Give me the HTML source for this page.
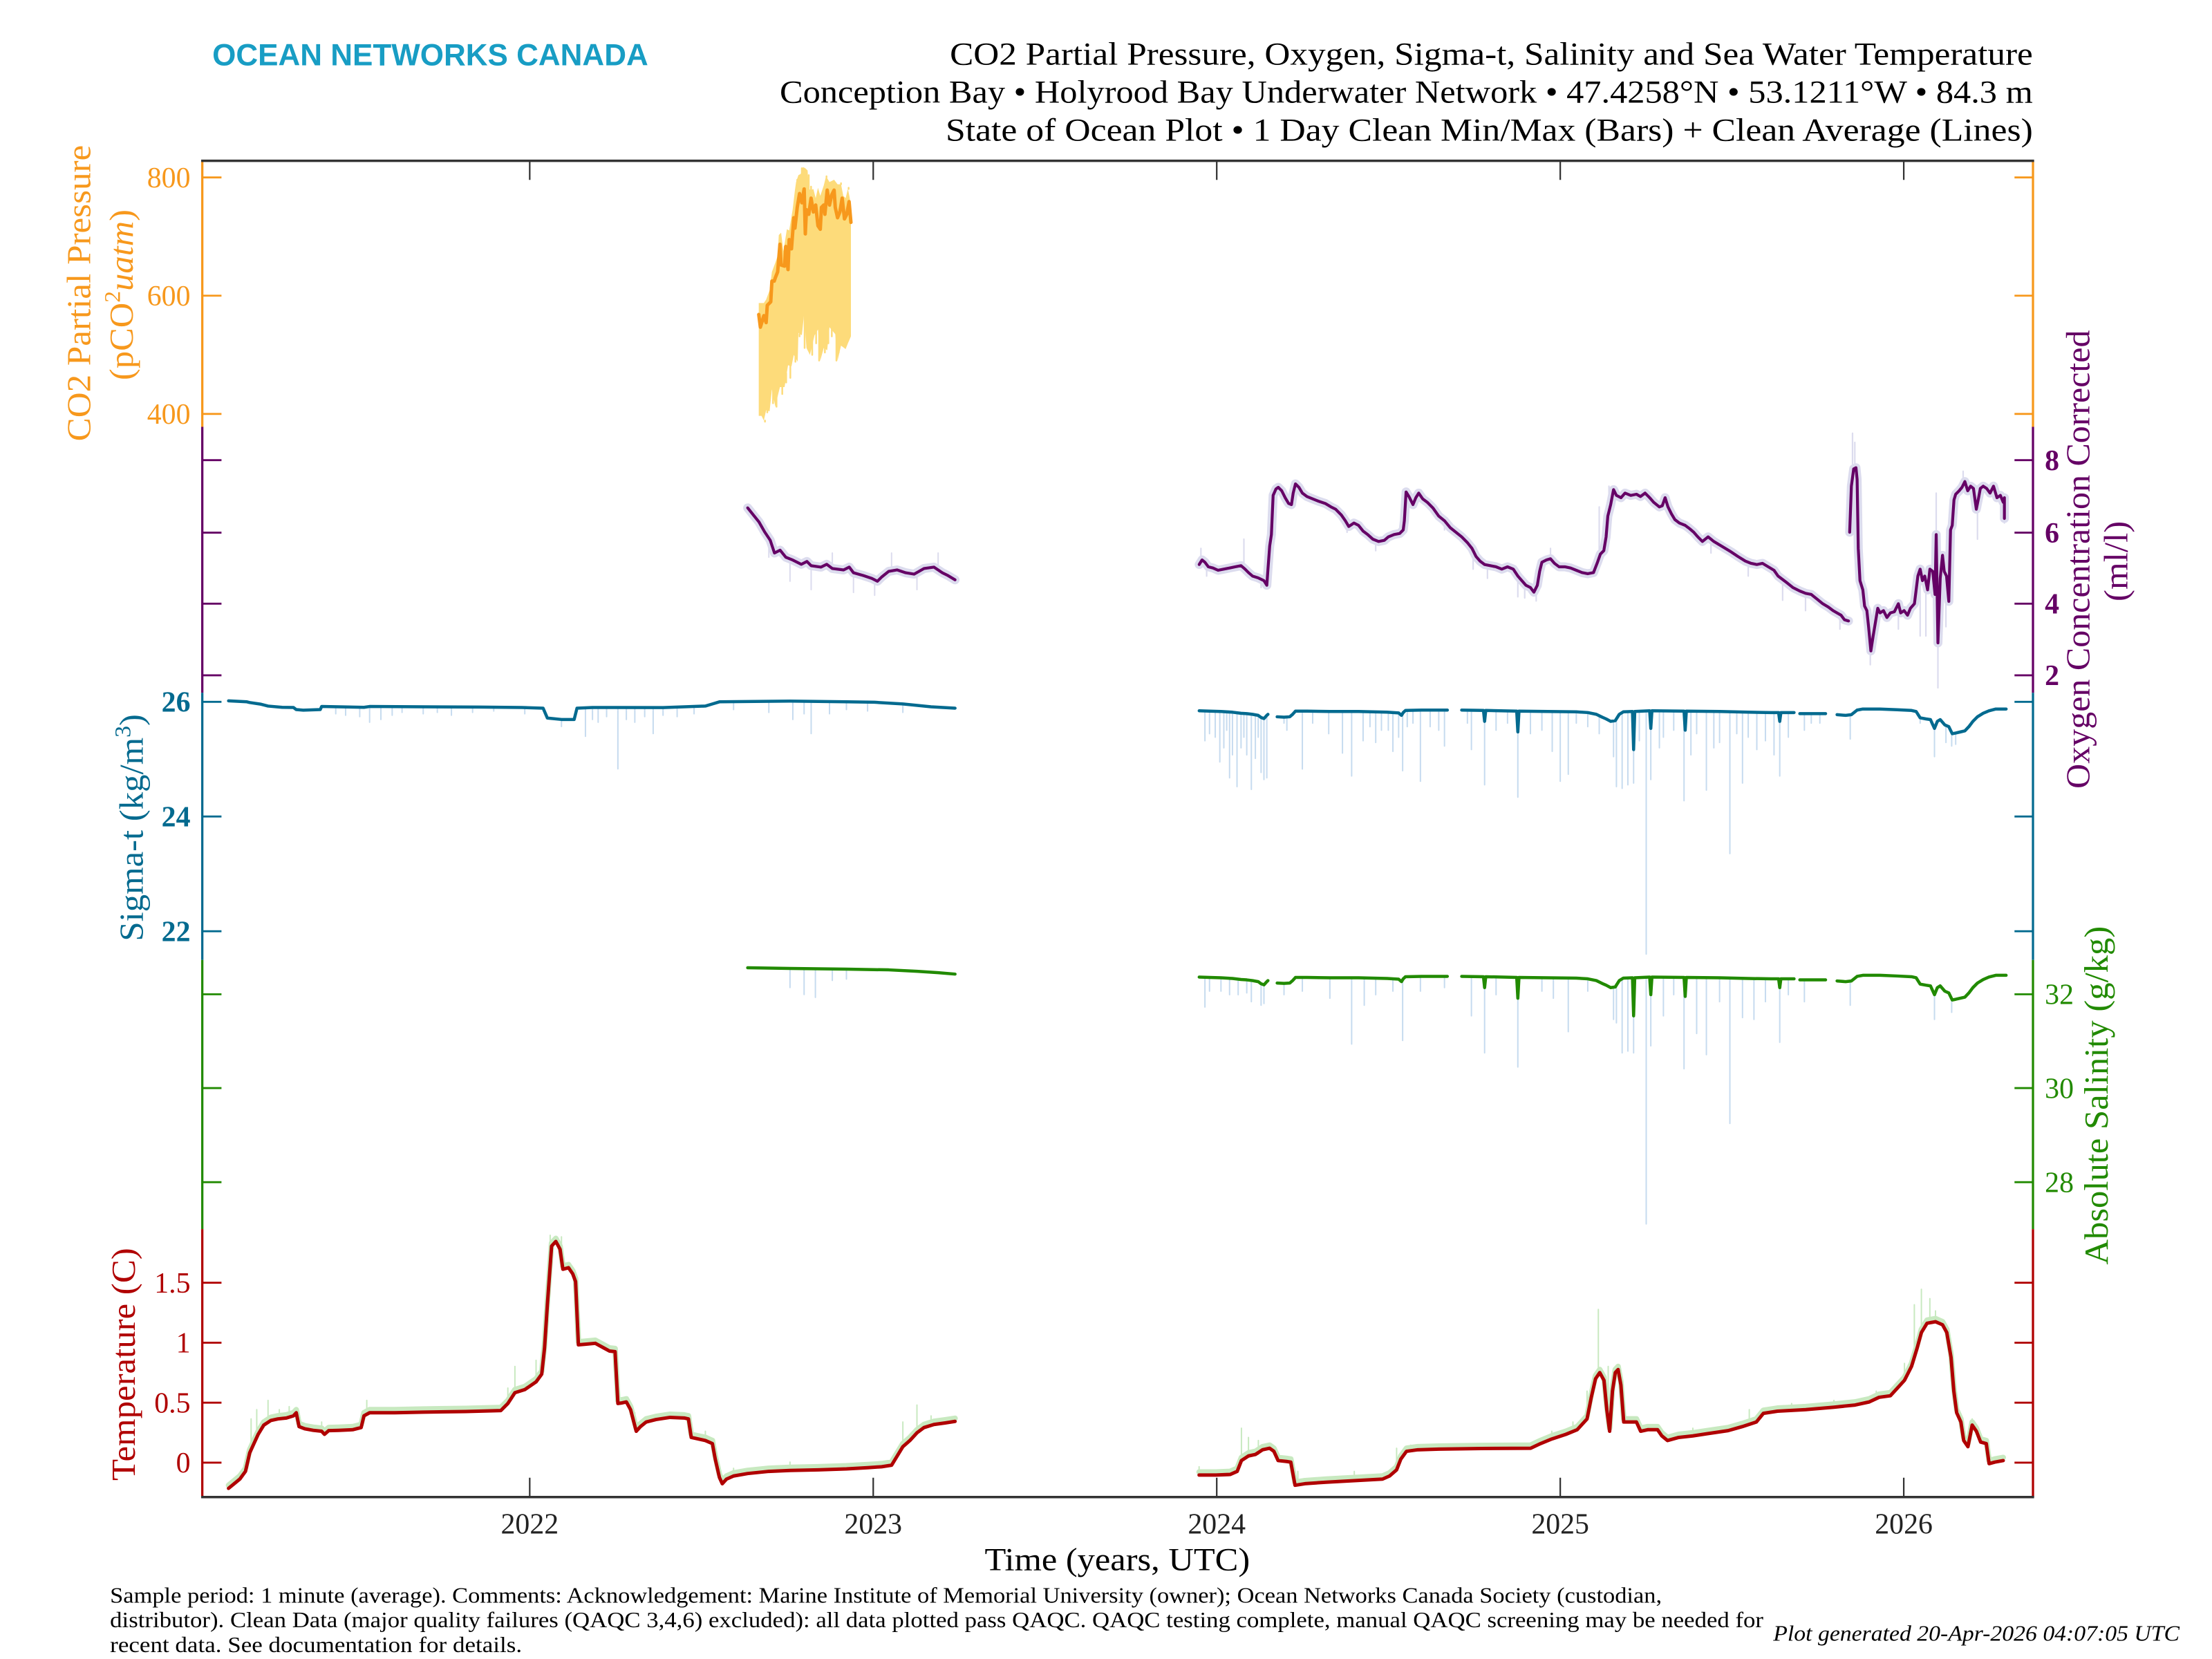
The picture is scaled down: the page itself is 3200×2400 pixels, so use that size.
<!DOCTYPE html>
<html><head><meta charset="utf-8"><style>
html,body{margin:0;padding:0;background:#fff;}
svg{display:block;}
text{font-family:"Liberation Serif",serif;}
.ns{vector-effect:non-scaling-stroke;fill:none;stroke-linejoin:round;stroke-linecap:round;}
</style></head><body>
<svg width="3200" height="2400" xmlns="http://www.w3.org/2000/svg">
<rect width="3200" height="2400" fill="#fff"/>
<defs>
<path id="sg" class="ns" d="M42,75 L60,76 80,77 100,79 115,82 125,83 135,85 145,88 150,94 155,97 160,88 162,85 M178,92 L190,93 200,92 205,85 210,76 230,76 270,77 320,77 370,79 390,81 395,88 398,80 402,74 430,73 475,73 M500,73 L538,74 540,105 542,74 596,76 598,135 600,76 650,77 700,78 720,80 735,85 745,93 752,98 760,105 768,103 775,85 782,78 798,77 800,185 802,77 828,75 830,125 832,75 888,76 890,130 892,76 950,77 1000,79 1040,80 1053,80 1055,105 1057,80 1080,80 M1090,83 L1135,83 M1155,86 L1170,88 1180,86 1190,73 1200,70 1230,70 1260,72 1285,74 1293,77 1300,95 1310,98 1318,100 1325,125 1330,105 1335,100 1343,115 1350,120 1356,140 1362,138 1370,135 1378,132 1385,120 1392,105 1400,92 1410,82 1420,75 1432,70 1450,70"/>
<path id="tp" class="ns" d="M162,1015 L166,1000 170,985 174,960 177,900 180,870 183,840 187,810 192,795 197,790 203,787 208,780 210,770 212,815 216,822 222,827 228,830 230,840 233,828 240,827 250,825 256,818 258,780 262,770 280,770 300,768 330,766 355,763 360,740 365,705 372,695 380,670 384,645 386,560 388,420 391,230 394,215 397,240 399,305 403,300 406,320 408,345 410,550 415,548 422,545 428,560 432,570 436,572 438,740 441,738 444,735 447,760 451,830 454,815 458,800 465,792 475,785 485,787 488,790 490,850 495,855 500,860 505,870 507,920 510,980 512,1000 515,985 520,975 530,967 545,960 560,957 580,955 600,952 615,948 625,945 632,940 636,910 640,880 645,860 650,835 655,818 662,808 670,803 677,798 M850,972 L862,972 872,970 877,960 880,925 885,910 890,905 895,890 900,885 903,895 906,925 912,928 915,930 918,1005 925,1000 940,995 960,990 980,985 985,975 990,955 993,920 997,895 1005,890 1020,888 1050,886 1085,885 1092,870 1100,855 1110,840 1118,825 1125,790 1128,720 1131,660 1134,640 1137,665 1139,760 1141,830 1143,700 1145,640 1147,630 1149,680 1151,800 1155,800 1160,800 1163,830 1168,825 1175,825 1178,845 1182,860 1190,850 1200,845 1210,838 1225,828 1235,815 1245,800 1250,772 1260,765 1280,760 1300,752 1315,745 1325,735 1332,720 1340,715 1345,690 1350,665 1355,620 1359,560 1362,510 1366,480 1372,475 1377,485 1380,510 1383,590 1385,700 1387,770 1390,800 1392,860 1395,880 1398,810 1401,830 1404,865 1408,870 1410,935 1414,930 1420,925"/>
<path id="ox" class="ns" d="M42,590 L47,570 52,580 58,600 66,605 75,615 85,610 95,605 105,600 115,595 122,610 128,625 135,640 145,648 155,660 160,680 162,610 165,510 168,460 171,290 176,262 180,255 186,270 192,300 198,325 203,330 206,280 210,240 216,255 222,280 230,295 240,305 250,315 262,325 272,340 280,350 290,375 297,400 303,425 312,410 320,420 328,445 336,460 345,480 355,490 365,485 372,470 382,460 392,455 398,440 400,400 403,275 408,295 415,330 420,300 425,280 432,305 440,320 450,345 460,380 470,400 480,430 490,450 500,470 510,495 518,520 525,555 532,575 540,590 550,595 560,600 570,610 580,600 590,610 598,640 605,660 612,680 620,690 626,710 632,680 636,620 640,580 648,570 655,565 662,585 670,600 680,600 690,605 700,615 710,625 720,630 730,625 737,580 742,545 748,530 752,470 755,380 760,330 765,265 770,290 778,300 785,280 795,290 805,285 812,295 820,280 828,300 835,320 845,340 850,335 855,300 860,340 866,370 872,395 880,410 890,420 898,435 905,450 912,470 920,490 930,470 940,490 950,505 960,520 970,535 982,555 995,575 1005,585 1015,590 1025,585 1035,600 1045,615 1052,640 1060,655 1068,670 1078,690 1090,705 1100,715 1110,720 1120,740 1130,760 1140,775 1148,790 1155,800 1162,810 1168,830 1175,835 M1177,450 L1180,250 1184,175 1188,170 1190,220 1192,520 1195,660 1200,700 1203,770 1207,790 1210,860 1214,965 1218,900 1222,840 1226,780 1230,800 1236,790 1242,820 1248,800 1255,795 1262,760 1266,800 1272,790 1278,810 1283,780 1290,760 1296,640 1300,610 1304,660 1308,640 1313,700 1317,610 1322,620 1326,720 1328,460 1331,930 1335,650 1339,550 1342,620 1346,640 1350,750 1353,440 1356,420 1359,310 1362,285 1368,270 1373,255 1378,230 1383,270 1388,250 1393,260 1398,350 1402,300 1405,260 1410,250 1416,260 1422,280 1428,250 1434,300 1440,290 1445,320 1447,300 1447,390"/>
<path id="oxl" class="ns" d="M530,360 L534,365 538,370 542,377 546,383 549,392 553,390 557,395 562,397 568,400 572,398 575,401 582,402 586,400 590,403 598,404 602,402 605,406 612,408 618,410 622,412 625,409 630,405 636,404 642,406 648,407 655,403 662,402 668,406 672,408 677,411"/>
</defs>
<g transform="scale(2.040816)">

<!-- Header -->
<text x="150.5" y="46.2" font-family="Liberation Sans, sans-serif" style="font-family:'Liberation Sans',sans-serif" font-weight="bold" font-size="22" fill="#189DC4" textLength="309" lengthAdjust="spacingAndGlyphs">OCEAN NETWORKS CANADA</text>
<text x="673.3" y="45.7" font-size="23" fill="#000" textLength="767.7" lengthAdjust="spacingAndGlyphs">CO2 Partial Pressure, Oxygen, Sigma-t, Salinity and Sea Water Temperature</text>
<text x="552.7" y="72.7" font-size="23" fill="#000" textLength="888.3" lengthAdjust="spacingAndGlyphs">Conception Bay • Holyrood Bay Underwater Network • 47.4258°N • 53.1211°W • 84.3 m</text>
<text x="670.3" y="99.6" font-size="23" fill="#000" textLength="770.7" lengthAdjust="spacingAndGlyphs">State of Ocean Plot • 1 Day Clean Min/Max (Bars) + Clean Average (Lines)</text>

<!-- CO2 panel -->
<g transform="translate(519.4,107.8) scale(0.16333)">
<polygon fill="#FDDB7A" points="113,655 135,655 145,640 160,600 170,520 185,480 195,450 200,360 210,350 220,430 235,335 245,340 260,250 270,165 275,130 285,100 295,95 305,65 315,70 325,80 330,160 340,165 350,160 360,200 370,155 380,190 395,145 405,105 420,130 440,120 455,140 470,140 480,190 490,200 500,160 508,200 513,240 513,800 500,830 490,855 470,840 455,905 445,790 420,760 410,860 395,850 380,905 370,770 355,795 335,880 320,850 310,700 300,795 285,785 282,910 265,880 255,930 240,925 225,1020 205,1020 195,1060 185,1105 170,1030 160,1125 145,1120 135,1165 125,1145 113,1145"/>
<path class="ns" stroke="#FDDB7A" stroke-width="2.5" d="M140,1165V1170 M150,1120V1130 M175,1030V1090 M190,1060V1105 M215,1020V1050 M232,960V1000 M250,930V980 M272,880V910 M290,790V800 M312,700V850 M330,795V850 M345,795V880 M362,770V830 M375,770V905 M400,850V870 M415,760V830 M430,760V800 M450,790V905 M460,840V870 M280,240V120 M300,95V70 M330,160V100 M407,105V110 M340,165V150 M470,140V135 M503,160V155"/>
<path class="ns" stroke="#F7981C" stroke-width="5" d="M113,705 L120,760 135,710 145,740 150,665 165,650 170,560 180,560 185,545 195,520 200,460 205,400 210,490 225,495 230,410 240,510 245,380 255,420 265,285 270,330 280,240 290,180 300,220 310,160 315,355 320,250 330,270 340,200 350,260 360,230 370,320 380,335 385,240 395,230 400,270 410,165 420,230 430,185 440,165 445,240 455,285 465,260 475,200 485,290 495,270 505,215 513,305"/>
</g>

<!-- Oxygen panel -->
<use href="#oxl" stroke="#DCDCEE" stroke-width="13"/>
<path class="ns" stroke="#DCDCEE" stroke-width="2" d="M545,380V395 M560,395V412 M575,400V418 M590,402V392 M605,405V420 M620,410V422 M632,404V392 M650,406V418 M665,402V392"/>
<use href="#oxl" stroke="#650065" stroke-width="4.2"/>
<g transform="translate(833,303.8) scale(0.40625,0.16333)">
<use href="#ox" stroke="#DCDCEE" stroke-width="13"/>
<path class="ns" stroke="#DCDCEE" stroke-width="2.2" d="M45,590V520 M55,580V640 M120,600V480 M150,655V690 M300,410V450 M350,485V530 M470,400V440 M520,530V610 M545,590V650 M598,640V730 M610,680V735 M630,700V748 M655,565V520 M740,560V340 M757,360V250 M852,320V285 M935,480V540 M1000,585V640 M1060,655V745 M1100,715V790 M1160,810V870 M1182,250V20 M1186,175V60 M1213,965V1025 M1262,760V870 M1300,610V900 M1310,700V900 M1328,460V280 M1331,930V1125 M1345,640V860 M1375,240V185 M1400,350V480 M1447,300V410"/>
<use href="#ox" stroke="#650065" stroke-width="4.2"/>
</g>

<!-- Sigma & Salinity left -->
<path class="ns" stroke="#C6DBEF" stroke-width="2" d="M238,501V506 M245,501V507 M255,501V508 M262,501V512 M270,501V510 M278,501V507 M285,501V505 M300,501V506 M310,501V505 M320,501V507 M335,501V505 M350,501V504 M372,501V506 M398,510V515 M415,502V522 M420,502V510 M424,502V512 M430,502V508 M438,502V545 M444,502V510 M450,502V512 M457,502V508 M463,502V520 M470,502V507 M480,502V508 M492,502V506 M520,497V503 M545,497V505 M562,497V510 M570,497V506 M575,497V520 M588,497V506 M600,497V503 M615,497V504 M640,499V505 M560,686V700 M570,686V705 M578,687V707 M590,687V695 M600,687V694"/>
<path class="ns" stroke="#036A8F" stroke-width="4.5" d="M162,496.8 L175,497.5 177,498 185,499.2 190,500.5 200,501.4 208,501.5 210,503 215,503.4 227,503 228,500.8 258,501.4 262,500.8 300,501 340,501.2 370,501.5 385,502 388,509 398,510 407,510 409,502 420,501.5 470,501.6 500,500.5 505,499 510,497.5 560,497 600,497.5 620,497.8 640,499 660,501 677,502"/>
<path class="ns" stroke="#218A00" stroke-width="4.5" d="M530,686 L560,686.5 600,687 630,687.5 650,688.5 665,689.5 677,690.5"/>

<!-- Sigma & Salinity right -->
<g transform="translate(833,485.1) scale(0.40625,0.25)">
<path class="ns" stroke="#C6DBEF" stroke-width="2" d="M52,78V160 M60,78V140 M70,78V150 M78,78V220 M85,78V180 M90,78V130 M95,78V265 M100,80V200 M108,80V290 M115,82V180 M120,82V150 M125,83V200 M133,85V298 M140,86V210 M145,88V150 M150,94V250 M155,97V270 M160,88V265 M190,93V110 M195,92V130 M222,76V240 M240,76V110 M268,77V140 M292,77V195 M308,77V260 M328,77V160 M340,78V120 M350,78V165 M360,78V130 M372,79V130 M380,80V190 M390,81V150 M397,85V245 M405,74V120 M415,74V110 M428,73V275 M445,73V120 M460,73V130 M470,73V175 M510,74V110 M517,74V185 M540,74V285 M560,76V130 M580,76V110 M598,76V320 M620,77V140 M640,77V130 M658,77V190 M672,78V275 M686,78V255 M700,78V110 M720,80V120 M740,88V140 M765,104V205 M770,100V290 M780,80V295 M790,77V285 M800,77V280 M810,77V160 M822,76V765 M830,75V270 M845,75V180 M852,75V150 M870,76V130 M888,76V330 M900,76V200 M910,76V140 M927,77V300 M940,77V180 M950,77V165 M968,78V480 M980,78V140 M990,78V280 M1000,79V150 M1015,79V185 M1030,80V160 M1045,80V200 M1055,80V260 M1070,80V150 M1098,83V130 M1110,83V110 M1125,83V110 M1178,87V155 M1300,95V110 M1325,125V205 M1345,115V165 M1355,140V175 M1362,138V170"/>
<path class="ns" stroke="#C6DBEF" stroke-width="2" d="M52,832V915 M60,832V870 M80,832V870 M95,834V880 M110,836V880 M125,838V875 M133,840V900 M150,849V910 M155,852V905 M190,848V880 M222,831V870 M270,832V890 M308,832V1020 M330,832V910 M350,833V880 M380,835V870 M397,840V1010 M428,828V870 M470,828V860 M517,829V940 M540,829V1045 M560,831V880 M598,831V1085 M640,832V870 M660,832V890 M686,833V985 M720,835V870 M765,859V950 M770,855V960 M780,835V1045 M790,832V1040 M800,832V1045 M822,831V1530 M830,830V1025 M852,830V940 M870,831V880 M888,831V1090 M910,831V990 M927,832V1050 M950,832V900 M968,833V1245 M990,833V945 M1010,834V950 M1030,835V900 M1055,835V1015 M1070,835V880 M1098,838V900 M1178,842V910 M1325,880V950 M1355,895V930"/>
<use href="#sg" stroke="#036A8F" stroke-width="4.5"/>
<use href="#sg" transform="translate(0,755)" stroke="#218A00" stroke-width="4.5"/>
</g>

<!-- Temperature -->
<g transform="translate(0,833) scale(1,0.21875)">
<use href="#tp" transform="translate(0,-10)" stroke="#C8E9C0" stroke-width="8"/>
<path class="ns" stroke="#C8E9C0" stroke-width="2" d="M178,900V790 M182,850V760 M190,800V730 M198,790V760 M205,787V750 M210,770V755 M228,830V800 M260,770V730 M300,768V755 M360,740V690 M365,705V620 M380,670V600 M390,230V195 M398,250V200 M445,735V720 M450,800V770 M485,787V775 M500,860V830 M520,975V950 M560,957V930 M600,952V935 M640,880V800 M650,835V745 M660,810V780 M670,803V790 M850,972V945 M880,925V820 M885,910V850 M892,905V860 M920,1003V960 M960,990V960 M990,955V885 M1000,893V875 M1100,855V830 M1115,830V800 M1125,790V700 M1133,645V435 M1140,780V620 M1200,845V820 M1240,805V760 M1270,762V740 M1300,752V730 M1330,722V700 M1350,665V610 M1357,590V420 M1362,510V370 M1368,478V400 M1372,475V440 M1398,810V790"/>
<use href="#tp" stroke="#B00000" stroke-width="5"/>
</g>

<!-- Spines -->
<g stroke-width="1.6" fill="none">
<line x1="143.4" y1="114" x2="143.4" y2="302.6" stroke="#F7981C"/>
<line x1="143.4" y1="302.6" x2="143.4" y2="491.1" stroke="#650065"/>
<line x1="143.4" y1="491.1" x2="143.4" y2="680.5" stroke="#036A8F"/>
<line x1="143.4" y1="680.5" x2="143.4" y2="871.3" stroke="#218A00"/>
<line x1="143.4" y1="871.3" x2="143.4" y2="1061.2" stroke="#B00000"/>
<line x1="1441.1" y1="114" x2="1441.1" y2="302.6" stroke="#F7981C"/>
<line x1="1441.1" y1="302.6" x2="1441.1" y2="491.1" stroke="#650065"/>
<line x1="1441.1" y1="491.1" x2="1441.1" y2="680.5" stroke="#036A8F"/>
<line x1="1441.1" y1="680.5" x2="1441.1" y2="871.3" stroke="#218A00"/>
<line x1="1441.1" y1="871.3" x2="1441.1" y2="1061.2" stroke="#B00000"/>
</g>
<!-- Y ticks -->
<g stroke-width="1.4">
<path stroke="#F7981C" d="M143,125.8H157 M143,209.6H157 M143,293.4H157 M1441,125.8H1428 M1441,209.6H1428 M1441,293.4H1428"/>
<path stroke="#650065" d="M143,326.2H157 M143,377.6H157 M143,427.9H157 M143,478.7H157 M1441,326.2H1428 M1441,377.6H1428 M1441,427.9H1428 M1441,478.7H1428"/>
<path stroke="#036A8F" d="M143,497.5H157 M143,578.8H157 M143,660.1H157 M1441,497.5H1428 M1441,578.8H1428 M1441,660.1H1428"/>
<path stroke="#218A00" d="M143,704.8H157 M143,771.3H157 M143,838H157 M1441,704.8H1428 M1441,771.3H1428 M1441,838H1428"/>
<path stroke="#B00000" d="M143,909.3H157 M143,951.8H157 M143,994.3H157 M143,1036.8H157 M1441,909.3H1428 M1441,951.8H1428 M1441,994.3H1428 M1441,1036.8H1428"/>
</g>
<!-- Top/bottom axis and x ticks -->
<line x1="142.6" y1="114" x2="1441.9" y2="114" stroke="#333" stroke-width="1.7"/>
<line x1="142.6" y1="1061.2" x2="1441.9" y2="1061.2" stroke="#333" stroke-width="1.7"/>
<path stroke="#333" stroke-width="1.1" d="M375.5,114V127.5 M619,114V127.5 M862.5,114V127.5 M1106,114V127.5 M1349.5,114V127.5 M375.5,1061V1047.5 M619,1061V1047.5 M862.5,1061V1047.5 M1106,1061V1047.5 M1349.5,1061V1047.5"/>

<!-- Tick labels -->
<g font-size="20.5" text-anchor="end">
<text x="135" y="132.8" fill="#F7981C">800</text>
<text x="135" y="216.6" fill="#F7981C">600</text>
<text x="135" y="300.4" fill="#F7981C">400</text>
<text x="135" y="504.5" fill="#036A8F" font-weight="bold">26</text>
<text x="135" y="585.8" fill="#036A8F" font-weight="bold">24</text>
<text x="135" y="667.1" fill="#036A8F" font-weight="bold">22</text>
<text x="135" y="916.3" fill="#B00000">1.5</text>
<text x="135" y="958.8" fill="#B00000">1</text>
<text x="135" y="1001.3" fill="#B00000">0.5</text>
<text x="135" y="1043.8" fill="#B00000">0</text>
</g>
<g font-size="20.5" text-anchor="start">
<text x="1449.5" y="333.2" fill="#650065" font-weight="bold">8</text>
<text x="1449.5" y="384.6" fill="#650065" font-weight="bold">6</text>
<text x="1449.5" y="434.9" fill="#650065" font-weight="bold">4</text>
<text x="1449.5" y="485.7" fill="#650065" font-weight="bold">2</text>
<text x="1449.5" y="711.8" fill="#218A00">32</text>
<text x="1449.5" y="778.3" fill="#218A00">30</text>
<text x="1449.5" y="845" fill="#218A00">28</text>
</g>
<g font-size="20.5" text-anchor="middle" fill="#222">
<text x="375.5" y="1087">2022</text>
<text x="619" y="1087">2023</text>
<text x="862.5" y="1087">2024</text>
<text x="1106" y="1087">2025</text>
<text x="1349.5" y="1087">2026</text>
</g>

<!-- Axis labels -->
<text transform="translate(64,312.8) rotate(-90)" font-size="24" fill="#F7981C" textLength="210" lengthAdjust="spacingAndGlyphs">CO2 Partial Pressure</text>
<text transform="translate(94,269.5) rotate(-90)" font-size="24" fill="#F7981C" textLength="121" lengthAdjust="spacingAndGlyphs">(pCO<tspan font-size="16" dy="-9">2</tspan><tspan font-style="italic" dy="9">uatm</tspan>)</text>
<text transform="translate(1481,559) rotate(-90)" font-size="24" fill="#650065" textLength="325" lengthAdjust="spacingAndGlyphs">Oxygen Concentration Corrected</text>
<text transform="translate(1508,426.3) rotate(-90)" font-size="24" fill="#650065" textLength="57" lengthAdjust="spacingAndGlyphs">(ml/l)</text>
<text transform="translate(101.3,667.2) rotate(-90)" font-size="24" fill="#036A8F" textLength="161" lengthAdjust="spacingAndGlyphs">Sigma-t (kg/m<tspan font-size="16" dy="-9">3</tspan><tspan dy="9">)</tspan></text>
<text transform="translate(1494,896.5) rotate(-90)" font-size="24" fill="#218A00" textLength="240" lengthAdjust="spacingAndGlyphs">Absolute Salinity (g/kg)</text>
<text transform="translate(95.6,1049.6) rotate(-90)" font-size="24" fill="#B00000" textLength="165" lengthAdjust="spacingAndGlyphs">Temperature (C)</text>

<text x="698" y="1113" font-size="23" fill="#000" textLength="188" lengthAdjust="spacingAndGlyphs">Time (years, UTC)</text>

<!-- Footer -->
<g font-size="15.5" fill="#000">
<text x="78" y="1136" textLength="1100" lengthAdjust="spacingAndGlyphs">Sample period: 1 minute (average). Comments: Acknowledgement: Marine Institute of Memorial University (owner); Ocean Networks Canada Society (custodian,</text>
<text x="78" y="1153.5" textLength="1172" lengthAdjust="spacingAndGlyphs">distributor). Clean Data (major quality failures (QAQC 3,4,6) excluded): all data plotted pass QAQC. QAQC testing complete, manual QAQC screening may be needed for</text>
<text x="78" y="1171" textLength="292" lengthAdjust="spacingAndGlyphs">recent data. See documentation for details.</text>
<text x="1257" y="1163" font-style="italic" textLength="288" lengthAdjust="spacingAndGlyphs">Plot generated 20-Apr-2026 04:07:05 UTC</text>
</g>
</g>
</svg>
</body></html>
